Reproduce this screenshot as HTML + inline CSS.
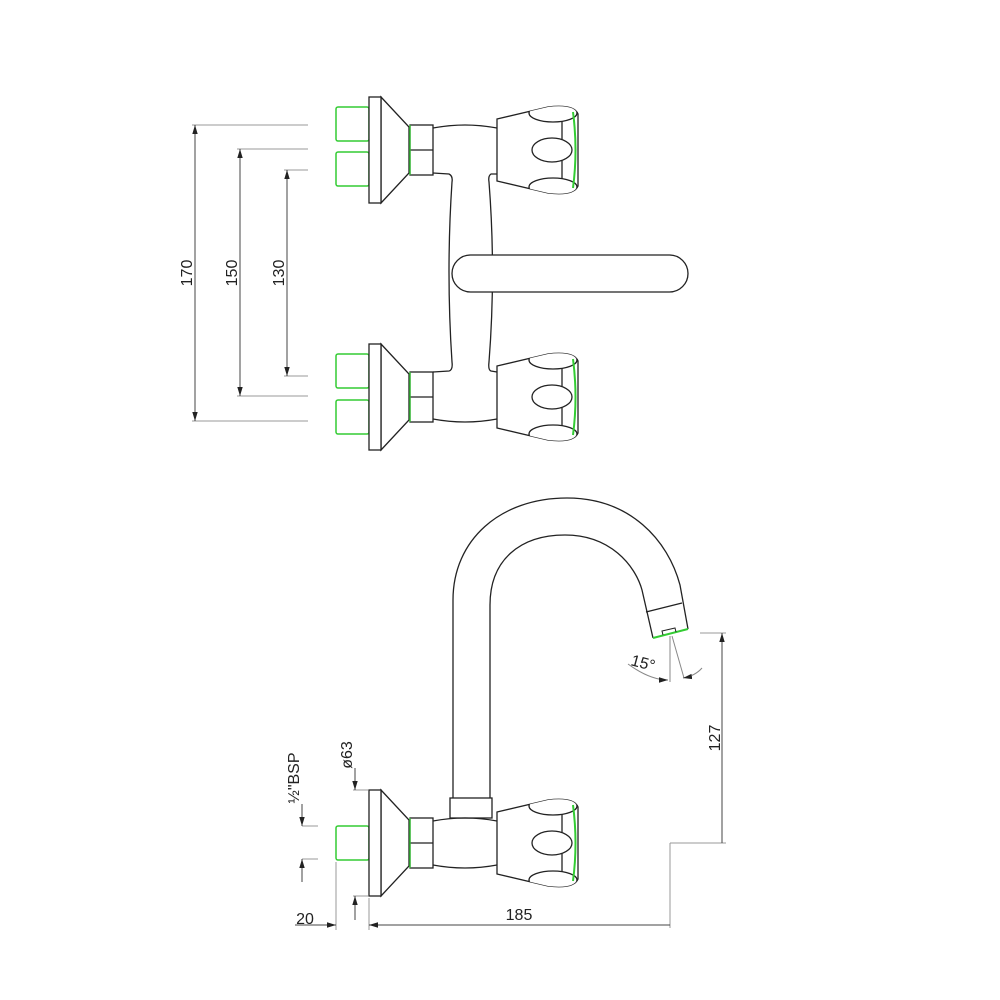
<!DOCTYPE html>
<html><head><meta charset="utf-8"><style>
html,body{margin:0;padding:0;background:#fff}
svg{display:block}
text{font-family:"Liberation Sans",sans-serif;font-size:16px;fill:#222}
</style></head><body>
<svg width="1000" height="1000" viewBox="0 0 1000 1000" xmlns="http://www.w3.org/2000/svg">
<defs>
<marker id="a" viewBox="0 0 10 10" refX="10" refY="5" markerWidth="9" markerHeight="9" orient="auto-start-reverse" markerUnits="userSpaceOnUse"><path d="M0,2 L10,5 L0,8 Z" fill="#222"/></marker>
<clipPath id="kc"><path d="M497,-31 L548,-43 Q574,-46 578,-36 L578,36 Q574,46 548,43 L497,31 Z"/></clipPath>
<g id="knob" fill="#fff" stroke="#222" stroke-width="1.3">
<path d="M497,-31 L548,-43 Q574,-46 578,-36 L578,36 Q574,46 548,43 L497,31 Z"/>
<line x1="562" y1="-37" x2="562" y2="37"/>
<g clip-path="url(#kc)">
<ellipse cx="553" cy="-37" rx="24" ry="9"/>
<ellipse cx="553" cy="37" rx="24" ry="9"/>
</g>
<ellipse cx="552" cy="0" rx="20" ry="12"/>
<path d="M573,-38 Q578,0 573,38" stroke="#3c3" stroke-width="2" fill="none"/>
</g>
<g id="valve" fill="#fff" stroke="#222" stroke-width="1.3">
<polygon points="381,-53 409,-23 409,23 381,53"/>
<rect x="369" y="-53" width="12" height="106"/>
<rect x="410" y="-25" width="23" height="50" stroke="#222"/>
<line x1="410" y1="0" x2="433" y2="0"/>
<line x1="410" y1="-25" x2="410" y2="25" stroke="#3c3"/>
</g>
</defs>

<g transform="translate(0,150)">
<rect x="336" y="-43" width="33" height="34" rx="2" fill="#fff" stroke="#3c3" stroke-width="1.5"/>
<rect x="336" y="2" width="33" height="34" rx="2" fill="#fff" stroke="#3c3" stroke-width="1.5"/>
<use href="#valve"/>
<path d="M433,-22 Q465,-28 497,-22" fill="none" stroke="#222" stroke-width="1.3"/>
<use href="#knob"/>
</g>
<g transform="translate(0,397)">
<rect x="336" y="-43" width="33" height="34" rx="2" fill="#fff" stroke="#3c3" stroke-width="1.5"/>
<rect x="336" y="3" width="33" height="34" rx="2" fill="#fff" stroke="#3c3" stroke-width="1.5"/>
<use href="#valve"/>
<path d="M433,22 Q465,28 497,22" fill="none" stroke="#222" stroke-width="1.3"/>
<use href="#knob"/>
</g>
<path d="M433,173 L449,174 Q453,176 452,182 Q446,272 452,362 Q453,370 449,371 L433,372" fill="none" stroke="#222" stroke-width="1.3"/>
<path d="M497,174 L491,174 Q488,176 489,182 Q496,272 489,362 Q488,370 491,371 L497,372" fill="none" stroke="#222" stroke-width="1.3"/>
<rect x="452" y="255" width="236" height="37" rx="18.5" fill="#fff" stroke="#222" stroke-width="1.3"/>

<g stroke="#999" stroke-width="1" fill="none">
<line x1="192" y1="125" x2="308" y2="125"/><line x1="192" y1="421" x2="308" y2="421"/>
<line x1="237" y1="149" x2="308" y2="149"/><line x1="237" y1="396" x2="308" y2="396"/>
<line x1="284" y1="170" x2="308" y2="170"/><line x1="284" y1="376" x2="308" y2="376"/>
</g>
<g stroke="#444" stroke-width="1">
<line x1="195" y1="125" x2="195" y2="421" marker-start="url(#a)" marker-end="url(#a)"/>
<line x1="240" y1="149" x2="240" y2="396" marker-start="url(#a)" marker-end="url(#a)"/>
<line x1="287" y1="170" x2="287" y2="376" marker-start="url(#a)" marker-end="url(#a)"/>
</g>
<text transform="translate(192,273) rotate(-90)" text-anchor="middle">170</text>
<text transform="translate(237,273) rotate(-90)" text-anchor="middle">150</text>
<text transform="translate(284,273) rotate(-90)" text-anchor="middle">130</text>

<path d="M453,798 L453,600 C453,540 500,498 567,498 C630,498 668,540 680,585 L688,629" fill="none" stroke="#222" stroke-width="1.3"/>
<path d="M490,798 L490,605 C490,560 520,535 565,535 C610,535 635,565 642,590 L653,638" fill="none" stroke="#222" stroke-width="1.3"/>
<line x1="646" y1="612" x2="682" y2="603" stroke="#222" stroke-width="1.3"/>
<line x1="653" y1="638" x2="688" y2="629" stroke="#3c3" stroke-width="2"/>
<path d="M663,635 L662,631 L675,628 L676,632" fill="none" stroke="#222" stroke-width="1"/>
<rect x="450" y="798" width="42" height="20" fill="#fff" stroke="#222" stroke-width="1.3"/>
<g transform="translate(0,843)">
<rect x="336" y="-17" width="33" height="34" rx="2" fill="#fff" stroke="#3c3" stroke-width="1.5"/>
<use href="#valve"/>
<path d="M433,-22 Q465,-28 497,-22 M433,22 Q465,28 497,22" fill="none" stroke="#222" stroke-width="1.3"/>
<use href="#knob"/>
</g>

<g stroke="#888" stroke-width="1" fill="none">
<line x1="670" y1="636" x2="670" y2="682"/>
<line x1="672" y1="636" x2="684" y2="678"/>
<path d="M628,664 Q650,680 668,680" marker-end="url(#a)"/>
<path d="M702,668 Q695,676 683,678" marker-end="url(#a)"/>
</g>
<text transform="translate(630,665) rotate(15)">15°</text>

<g stroke="#999" stroke-width="1" fill="none">
<line x1="700" y1="633" x2="726" y2="633"/>
<line x1="670" y1="843" x2="726" y2="843"/>
<line x1="670" y1="843" x2="670" y2="928"/>
<line x1="369" y1="898" x2="369" y2="930"/>
<line x1="336" y1="862" x2="336" y2="930"/>
</g>
<line x1="722" y1="633" x2="722" y2="843" stroke="#444" marker-start="url(#a)"/>
<text transform="translate(720,738) rotate(-90)" text-anchor="middle">127</text>
<line x1="369" y1="925" x2="670" y2="925" stroke="#444" marker-start="url(#a)"/>
<text x="519" y="920" text-anchor="middle">185</text>
<line x1="295" y1="925" x2="336" y2="925" stroke="#444" marker-end="url(#a)"/>
<text x="305" y="924" text-anchor="middle">20</text>

<g stroke="#999" stroke-width="1" fill="none">
<line x1="353" y1="790" x2="368" y2="790"/>
<line x1="353" y1="896" x2="368" y2="896"/>
<line x1="302" y1="826" x2="318" y2="826"/>
<line x1="302" y1="859" x2="318" y2="859"/>
</g>
<g stroke="#444" stroke-width="1">
<line x1="355" y1="768" x2="355" y2="790" marker-end="url(#a)"/>
<line x1="355" y1="920" x2="355" y2="896" marker-end="url(#a)"/>
<line x1="302" y1="804" x2="302" y2="826" marker-end="url(#a)"/>
<line x1="302" y1="882" x2="302" y2="859" marker-end="url(#a)"/>
</g>
<text transform="translate(352,755) rotate(-90)" text-anchor="middle">ø63</text>
<text transform="translate(299,778) rotate(-90)" text-anchor="middle">½"BSP</text>
</svg>
</body></html>
